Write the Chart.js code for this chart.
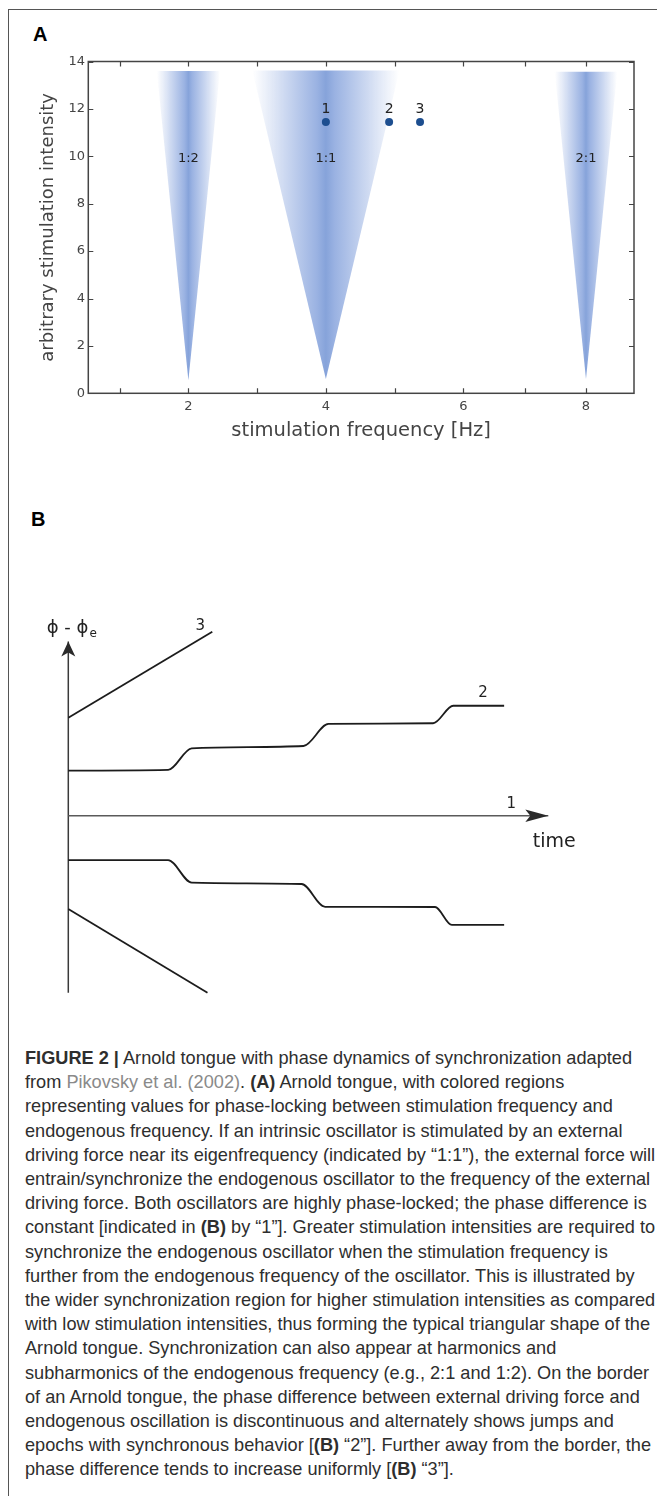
<!DOCTYPE html>
<html>
<head>
<meta charset="utf-8">
<script src="https://cdn.jsdelivr.net/npm/chart.js@4.4.1/dist/chart.umd.min.js"></script>
<style>
  html, body { margin: 0; padding: 0; background: #fff; }
  body { width: 657px; height: 1496px; position: relative; overflow: hidden; font-family: "Liberation Sans", Arial, sans-serif; }
  #frame { position: absolute; left: 8px; top: 9px; right: -5px; bottom: -5px; border-left: 1px solid #555; border-top: 1px solid #555; }
  .panel { position: absolute; font-weight: bold; font-size: 20px; line-height: 20px; color: #000; }
  canvas { position: absolute; left: 0; }
  #caption { position: absolute; left: 25px; top: 1046px; font-size: 19px; line-height: 24.2px; color: #2e2e2e; white-space: nowrap; transform-origin: 0 0; }
  #caption .ref { color: #8a8a8a; }
</style>
</head>
<body>
<div id="frame"></div>
<div class="panel" style="left:33px; top:24px;">A</div>
<canvas id="tongueChart" width="657" height="460" style="top:0"></canvas>
<div class="panel" style="left:31px; top:509px;">B</div>
<canvas id="phaseChart" width="657" height="420" style="top:600px"></canvas>

<div id="caption">
<div id="capFirst"><b>FIGURE 2 |</b> Arnold tongue with phase dynamics of synchronization adapted</div>
<div>from <span class="ref">Pikovsky et al. (2002)</span>. <b>(A)</b> Arnold tongue, with colored regions</div>
<div>representing values for phase-locking between stimulation frequency and</div>
<div>endogenous frequency. If an intrinsic oscillator is stimulated by an external</div>
<div>driving force near its eigenfrequency (indicated by “1:1”), the external force will</div>
<div>entrain/synchronize the endogenous oscillator to the frequency of the external</div>
<div>driving force. Both oscillators are highly phase-locked; the phase difference is</div>
<div>constant [indicated in <b>(B)</b> by “1”]. Greater stimulation intensities are required to</div>
<div>synchronize the endogenous oscillator when the stimulation frequency is</div>
<div>further from the endogenous frequency of the oscillator. This is illustrated by</div>
<div>the wider synchronization region for higher stimulation intensities as compared</div>
<div>with low stimulation intensities, thus forming the typical triangular shape of the</div>
<div>Arnold tongue. Synchronization can also appear at harmonics and</div>
<div>subharmonics of the endogenous frequency (e.g., 2:1 and 1:2). On the border</div>
<div>of an Arnold tongue, the phase difference between external driving force and</div>
<div>endogenous oscillation is discontinuous and alternately shows jumps and</div>
<div>epochs with synchronous behavior [<b>(B)</b> “2”]. Further away from the border, the</div>
<div>phase difference tends to increase uniformly [<b>(B)</b> “3”].</div>
</div>

<script>
// ---- panel A: Arnold tongues ----
const tongueNames = ['1:2', '1:1', '2:1'];
const tongueTipFreq = [2, 4, 8];
const tongueTipIntensity = [0.55, 0.6, 0.6];
const tongueTopLeft = [1.54, 2.93, 7.49];
const tongueTopRight = [2.46, 5.07, 8.51];
const tongueTopIntensity = [13.6, 13.62, 13.57];

const pointNames = ['1', '2', '3'];
const pointFreq = [4, 4.92, 5.37];
const pointIntensity = [11.45, 11.45, 11.45];

const xTickValues = [1, 2, 3, 4, 5, 6, 7, 8];
const xTickLabels = ['', '2', '', '4', '', '6', '', '8'];
const yTickValues = [0, 2, 4, 6, 8, 10, 12, 14];

// ---- panel B: phase difference over time ----
const line3Time = [0, 3.0];
const line3Phase = [4.26, 8.0];
const step2Time = [0, 2.08, 2.57, 4.9, 5.42, 7.6, 8.02, 9.08];
const step2Phase = [1.96, 1.99, 2.93, 3.03, 3.99, 4.02, 4.78, 4.78];
const line1Time = [0, 10.0];
const line1Phase = [0, 0];
const stepDownTime = [0, 2.08, 2.57, 4.86, 5.35, 7.64, 7.99, 9.08];
const stepDownPhase = [-1.93, -1.93, -2.91, -2.97, -3.96, -3.97, -4.75, -4.75];
const lineDownTime = [0, 2.9];
const lineDownPhase = [-4.06, -7.7];
const phaseAxisTime = [0, 0];
const phaseAxisPhase = [-7.7, 7.57];

Chart.defaults.font.family = '"DejaVu Sans", sans-serif';

// the x axis of the reference is squeezed above 6 Hz, so bend the linear scale there
const LinearScale = Chart.LinearScale || Chart.registry.getScale('linear');
const BEND_AT = 6;
const BEND_RATIO = 0.892;
class BentScale extends LinearScale {
    bend(v) { return v <= BEND_AT ? v : BEND_AT + (v - BEND_AT) * BEND_RATIO; }
    getPixelForValue(v) {
        const a = this.bend(this.min), b = this.bend(this.max);
        return this.getPixelForDecimal((this.bend(v) - a) / (b - a));
    }
    getValueForPixel(p) {
        const a = this.bend(this.min), b = this.bend(this.max);
        const u = a + this.getDecimalForPixel(p) * (b - a);
        return u <= BEND_AT ? u : BEND_AT + (u - BEND_AT) / BEND_RATIO;
    }
}
BentScale.id = 'bent';
BentScale.defaults = LinearScale.defaults;
Chart.register(BentScale);

function tongueFill(context) {
    const chart = context.chart;
    const i = context.datasetIndex;
    const x = chart.scales.x;
    if (!chart.chartArea || !x) return '#9db4e3';
    const l = x.getPixelForValue(tongueTopLeft[i]);
    const r = x.getPixelForValue(tongueTopRight[i]);
    const g = chart.ctx.createLinearGradient(l, 0, r, 0);
    g.addColorStop(0, 'rgba(255,255,255,0.9)');
    g.addColorStop(0.22, '#cdd9f1');
    g.addColorStop(0.44, '#9ab2e2');
    g.addColorStop(0.5, '#86a3da');
    g.addColorStop(0.56, '#9ab2e2');
    g.addColorStop(0.78, '#cdd9f1');
    g.addColorStop(1, 'rgba(255,255,255,0.9)');
    return g;
}

// tongues get a higher order so they are painted under the dots
const tongueSets = tongueNames.map((name, i) => ({
    label: name,
    order: 1,
    data: [
        {x: tongueTopLeft[i], y: tongueTopIntensity[i]},
        {x: tongueTipFreq[i], y: tongueTipIntensity[i]},
        {x: tongueTopRight[i], y: tongueTopIntensity[i]}
    ],
    fill: 'shape',
    backgroundColor: tongueFill,
    borderWidth: 0,
    pointRadius: 0,
    tension: 0
}));

const pointSet = {
    label: 'points',
    order: 0,
    data: pointFreq.map((f, i) => ({x: f, y: pointIntensity[i]})),
    showLine: false,
    pointRadius: 4,
    pointBackgroundColor: '#1d4e8f',
    pointBorderWidth: 0
};

const tongueDecor = {
    id: 'tongueDecor',
    afterDatasetsDraw(chart) {
        const {ctx, chartArea: a, scales: {x, y}} = chart;
        ctx.save();
        ctx.fillStyle = '#222';
        ctx.textAlign = 'center';
        ctx.textBaseline = 'middle';
        ctx.font = '13px "DejaVu Sans"';
        tongueNames.forEach((n, i) => {
            ctx.fillText(n, x.getPixelForValue(tongueTipFreq[i]), y.getPixelForValue(9.9));
        });
        ctx.font = '14px "DejaVu Sans"';
        const meta = chart.getDatasetMeta(tongueNames.length);
        meta.data.forEach((pt, i) => ctx.fillText(pointNames[i], pt.x, pt.y - 13));

        // frame and inward ticks on all four sides
        ctx.strokeStyle = '#444';
        ctx.lineWidth = 1.5;
        ctx.strokeRect(a.left, a.top, a.width, a.height);
        ctx.lineWidth = 1.2;
        ctx.beginPath();
        xTickValues.forEach(v => {
            const px = Math.round(x.getPixelForValue(v)) + 0.5;
            ctx.moveTo(px, a.bottom); ctx.lineTo(px, a.bottom - 5);
            ctx.moveTo(px, a.top); ctx.lineTo(px, a.top + 5);
        });
        yTickValues.forEach(v => {
            const py = Math.round(y.getPixelForValue(v)) + 0.5;
            ctx.moveTo(a.left, py); ctx.lineTo(a.left + 5, py);
            ctx.moveTo(a.right, py); ctx.lineTo(a.right - 5, py);
        });
        ctx.stroke();
        ctx.restore();
    }
};

new Chart(document.getElementById('tongueChart'), {
    type: 'line',
    data: {datasets: [...tongueSets, pointSet]},
    options: {
        responsive: false,
        animation: false,
        events: [],
        layout: {padding: {top: 61.5, right: 23, left: 0, bottom: 0}, autoPadding: false},
        plugins: {legend: {display: false}, tooltip: {enabled: false}},
        scales: {
            x: {
                type: 'bent',
                min: 0.544,
                max: 8.783,
                afterBuildTicks: s => { s.ticks = xTickValues.map(v => ({value: v})); },
                afterFit: s => { s.height = 66.7; },
                grid: {display: false, drawTicks: false},
                border: {display: false},
                ticks: {
                    padding: 5.5,
                    color: '#444',
                    font: {size: 13},
                    maxRotation: 0,
                    autoSkip: false,
                    callback: (v, i) => xTickLabels[i]
                },
                title: {
                    display: true,
                    text: 'stimulation frequency [Hz]',
                    color: '#444',
                    font: {size: 19.5},
                    padding: {top: 0, bottom: 16.9}
                }
            },
            y: {
                type: 'linear',
                min: 0,
                max: 14,
                afterBuildTicks: s => { s.ticks = yTickValues.map(v => ({value: v})); },
                afterFit: s => { s.width = 88.3; },
                grid: {display: false, drawTicks: false},
                border: {display: false},
                ticks: {padding: 3.3, color: '#444', font: {size: 13}, autoSkip: false},
                title: {
                    display: true,
                    text: 'arbitrary stimulation intensity',
                    color: '#444',
                    font: {size: 18},
                    padding: {top: 37.5, bottom: 0}
                }
            }
        }
    },
    plugins: [tongueDecor]
});

// ---- panel B chart ----
function curve(label, times, phases, color, width, smooth) {
    return {
        label: label,
        data: times.map((t, i) => ({x: t, y: phases[i]})),
        borderColor: color,
        borderWidth: width,
        pointRadius: 0,
        fill: false,
        cubicInterpolationMode: smooth ? 'monotone' : 'default',
        tension: 0
    };
}

const phaseSets = [
    curve('3', line3Time, line3Phase, '#1c1c1c', 1.8, false),
    curve('2', step2Time, step2Phase, '#1c1c1c', 1.8, true),
    curve('1', line1Time, line1Phase, '#5a5a5a', 1.4, false),
    curve('', stepDownTime, stepDownPhase, '#1c1c1c', 1.8, true),
    curve('', lineDownTime, lineDownPhase, '#1c1c1c', 1.8, false),
    curve('axis', phaseAxisTime, phaseAxisPhase, '#3a3a3a', 1.5, false)
];

function lastPoint(chart, i) {
    const d = chart.getDatasetMeta(i).data;
    return d[d.length - 1];
}

const phaseDecor = {
    id: 'phaseDecor',
    afterDatasetsDraw(chart) {
        const ctx = chart.ctx;
        ctx.save();
        ctx.textAlign = 'center';
        ctx.textBaseline = 'middle';

        // arrow heads on the two axes
        const h = lastPoint(chart, 2);
        ctx.fillStyle = '#2a2a2a';
        ctx.beginPath();
        ctx.moveTo(h.x, h.y);
        ctx.lineTo(h.x - 23, h.y - 6.2);
        ctx.lineTo(h.x - 18, h.y);
        ctx.lineTo(h.x - 23, h.y + 6.2);
        ctx.closePath();
        ctx.fill();
        const v = lastPoint(chart, 5);
        ctx.beginPath();
        ctx.moveTo(v.x, v.y);
        ctx.lineTo(v.x - 7, v.y + 15);
        ctx.lineTo(v.x, v.y + 11);
        ctx.lineTo(v.x + 7, v.y + 15);
        ctx.closePath();
        ctx.fill();

        // curve numbers near their ends
        ctx.fillStyle = '#222';
        ctx.font = '15px "DejaVu Sans"';
        const p3 = lastPoint(chart, 0);
        ctx.fillText('3', p3.x - 12, p3.y - 6);
        const p2 = lastPoint(chart, 1);
        ctx.fillText('2', p2.x - 21, p2.y - 13);
        ctx.fillText('1', h.x - 37, h.y - 11.5);
        ctx.font = '19px "DejaVu Sans"';
        ctx.fillText('time', h.x + 6, h.y + 26);

        // axis name phi - phi_e
        ctx.textAlign = 'left';
        ctx.font = '18px "DejaVu Sans"';
        const main = 'ϕ - ϕ';
        const left = v.x - 21.6;
        ctx.fillText(main, left, v.y - 13);
        const w = ctx.measureText(main).width;
        ctx.font = '12px "DejaVu Sans"';
        ctx.fillText('e', left + w + 1, v.y - 8);
        ctx.restore();
    }
};

new Chart(document.getElementById('phaseChart'), {
    type: 'line',
    data: {datasets: phaseSets},
    options: {
        responsive: false,
        animation: false,
        events: [],
        layout: {padding: 0, autoPadding: false},
        plugins: {legend: {display: false}, tooltip: {enabled: false}},
        scales: {
            x: {type: 'linear', display: false, min: -1.4229, max: 12.2646},
            y: {type: 'linear', display: false, min: -8.8826, max: 9.3783}
        }
    },
    plugins: [phaseDecor]
});

// squeeze the caption to the condensed width of the original
const cap = document.getElementById('caption');
const firstLine = document.getElementById('capFirst');
const range = document.createRange();
range.selectNodeContents(firstLine);
const natural = range.getBoundingClientRect().width;
cap.style.transform = 'scaleX(' + (607 / natural) + ')';
</script>
</body>
</html>
